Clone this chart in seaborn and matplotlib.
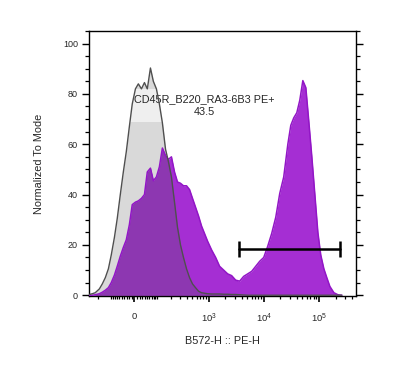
import numpy as np
import pandas as pd
import matplotlib.pyplot as plt
import seaborn as sns
from matplotlib.ticker import FixedLocator, MultipleLocator, NullFormatter

sns.set_style("ticks")
plt.rcParams['font.family'] = ['Liberation Sans', 'DejaVu Sans']
plt.rcParams['mathtext.fontset'] = 'custom'
plt.rcParams['mathtext.rm'] = 'Liberation Sans'
plt.rcParams['mathtext.it'] = 'Liberation Sans:italic'
plt.rcParams['mathtext.bf'] = 'Liberation Sans:bold'

# ---- data (PE-H bin centres, % of mode) ----
pe_h = [-289, -253, -222, -184, -160, -138, -118, -101, -84, -70, -56, -43, -31, -19, -8,
        4, 15, 27, 39, 51, 65, 79, 95, 112, 131, 153, 176, 202, 232, 265, 302, 344, 392,
        446, 506, 575, 653, 741, 841, 954, 1130, 1340, 1580, 1870, 2210, 2610, 3090,
        3650, 4320, 5110, 6040, 7140, 8440, 9980, 11800, 13900, 16500, 19500, 23000,
        27300, 30900, 35000, 39700, 45000, 51100, 57900, 65600, 74400, 84400, 95700,
        108000, 123000, 139000, 158000, 187000, 221000, 261000]

control = [0.3, 0.6, 1.0, 2.5, 4.5, 7, 10.5, 16, 23, 30.5, 40, 49, 57, 67, 76,
           82, 84, 82, 84.5, 82, 90.3, 85, 82, 76, 68.5, 58, 53, 47, 37, 27, 20, 15, 10.5,
           7, 4.5, 3, 1.6, 1.0, 0.8, 0.6, 0.5, 0.5, 0.5, 0.4, 0.4, 0.3, 0.3,
           0.2, 0.1, 0, 0, 0, 0, 0, 0, 0, 0, 0, 0,
           0, 0, 0, 0, 0, 0, 0, 0, 0, 0, 0,
           0, 0, 0, 0, 0, 0, 0]

stained = [0, 0, 0.2, 0.6, 1.2, 2, 3, 5, 8, 11.5, 15.5, 19, 22, 28, 36,
           37, 37.5, 38.5, 40, 49, 50.5, 45.5, 47, 51, 58.5, 55.5, 54, 55, 49, 45, 44.5, 43.5, 43.5,
           42, 38.5, 35, 31.5, 27.5, 24.5, 21.5, 18, 15, 11.5, 10, 8.5, 7.8, 6,
           5.6, 7.5, 8.5, 9.5, 11.5, 13.5, 15, 19.5, 24.5, 31, 40.5, 47,
           60, 67.5, 70.5, 72.5, 77.5, 85.3, 82.5, 69, 55, 40, 25,
           16, 10.5, 7, 3.5, 1, 0.2, 0]

gate_bounds = [3500, 245000]
gate_level = 18.4
gate_name = "CD45R_B220_RA3-6B3 PE+"
gate_pct = "43.5"

major_ticks = [0, 1e3, 1e4, 1e5]
major_labels = ['0', '$10^3$', '$10^4$', '$10^5$']
minor_ticks = ([-200, -100] + list(range(-90, 0, 10)) + list(range(10, 100, 10))
               + list(range(100, 1000, 100)) + list(range(2000, 10000, 1000))
               + list(range(20000, 100000, 10000)) + [200000, 300000, 400000])

df = pd.DataFrame({'PE-H': pe_h, 'control': control, 'stained': stained})

# ---- figure ----
fig = plt.figure(figsize=(3.94, 3.79), dpi=100)
ax = fig.add_axes([0.2266, 0.219, 0.6769, 0.6992])
ax.set_xscale('asinh', linear_width=90)

ax.fill_between(df['PE-H'], df['control'], color='#d9d9d9', lw=0, zorder=1)
ax.fill_between(df['PE-H'], df['stained'], color='#a52ed3', lw=0, zorder=1.2)
ax.fill_between(df['PE-H'], np.minimum(df['control'], df['stained']),
                color='#8d37b1', lw=0, zorder=1.4)
sns.lineplot(data=df, x='PE-H', y='stained', color='#9216c6', lw=1.1, ax=ax, zorder=3)
sns.lineplot(data=df, x='PE-H', y='control', color='#4f4f4f', lw=1.0, ax=ax, zorder=3.2)

# gate
ax.plot(gate_bounds, [gate_level, gate_level], color='black', lw=1.8,
        marker='|', ms=12, mew=1.8, zorder=4)
ax.text(841, 75.5, gate_name + "\n" + gate_pct, ha='center', va='center',
        multialignment='center', fontsize=7.8, linespacing=1.35, zorder=2.5,
        bbox=dict(boxstyle='square,pad=0.45', fc='white', ec='none', alpha=0.6))

ax.set_xlim(-289, 470000)
ax.set_ylim(-0.3, 105)

ax.xaxis.set_major_locator(FixedLocator(major_ticks))
ax.set_xticklabels(major_labels)
ax.xaxis.set_minor_locator(FixedLocator(minor_ticks))
ax.xaxis.set_minor_formatter(NullFormatter())
ax.yaxis.set_major_locator(MultipleLocator(20))
ax.yaxis.set_minor_locator(MultipleLocator(5))

ax.tick_params(axis='x', which='major', length=4, width=1.2, labelsize=6.8, pad=7.5,
               bottom=True, top=False, color='black')
ax.tick_params(axis='x', which='minor', length=2.2, width=0.9, bottom=True, top=False,
               color='black')
ax.tick_params(axis='y', which='major', length=5.2, width=1, labelsize=6.5, pad=3,
               left=True, right=True, color='black')
ax.tick_params(axis='y', which='minor', length=2.8, width=0.9, left=True, right=True,
               color='black')

for s in ax.spines.values():
    s.set_color('black')
    s.set_linewidth(1)

ax.set_xlabel('B572-H :: PE-H', fontsize=7.8)
ax.set_ylabel('Normalized To Mode', fontsize=7.8)
ax.xaxis.set_label_coords(0.5, -0.15)
ax.yaxis.set_label_coords(-0.168, 0.5)

fig.savefig('out.png', dpi=100)
